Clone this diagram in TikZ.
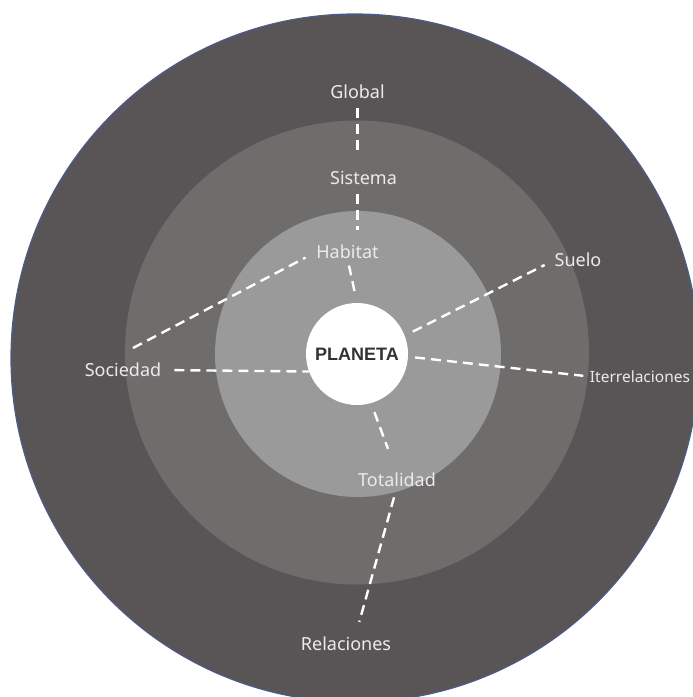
\documentclass[tikz,border=0pt]{standalone}
\usepackage{fontspec}
\setmainfont{Noto Sans}
\newfontfamily\planetfont{Liberation Sans}
\usetikzlibrary{calc}
\definecolor{ringA}{HTML}{595556}
\definecolor{ringB}{HTML}{6F6C6C}
\definecolor{ringC}{HTML}{9A9A9A}
\definecolor{rimblue}{HTML}{4D5B88}
\definecolor{labeltxt}{HTML}{EBEBEB}
\definecolor{planettxt}{HTML}{333333}
\tikzset{
  lbl/.style={inner sep=0pt, text height=13pt, text depth=0pt, text=labeltxt, font=\fontsize{18}{18}\selectfont},
  dashline/.style={draw=white, line width=2.4pt, dash pattern=on 10pt off 6pt},
}
\begin{document}
\begin{tikzpicture}[x=1pt,y=-1pt]
\useasboundingbox (0,0) rectangle (693,697);
\begin{scope}
\clip (0,0) rectangle (693,697);
\fill[white] (0,0) rectangle (693,697);
\filldraw[fill=ringA, draw=rimblue, line width=1.2pt] (355,358) circle (344pt);
\fill[ringB] (357,352.5) circle (232pt);
\fill[ringC] (358,354) circle (143pt);
\end{scope}
\node[circle, fill=white, minimum size=102pt, inner sep=0pt, text=planettxt,
      font=\planetfont\fontsize{18}{18}\selectfont\bfseries] (planet) at (357,354) {PLANETA};
\node[lbl] (global) at (357.5,92) {Global};
\node[lbl] (sistema) at (363.5,178) {Sistema};
\node[lbl] (habitat) at (347.5,252) {Habitat};
\node[lbl] (suelo) at (578,260) {Suelo};
\node[lbl] (sociedad) at (123,370) {Sociedad};
\node[lbl, font=\fontsize{15.5}{15.5}\selectfont, text height=11pt] (iterrel) at (640,376.5) {Iterrelaciones};
\node[lbl] (totalidad) at (397,480) {Totalidad};
\node[lbl] (relaciones) at (346,644) {Relaciones};
\coordinate (socUp) at (133,348);
% connectors
\draw[dashline, shorten <=9.5pt, shorten >=16.5pt] (global.south) -- (global.south |- sistema.north);
\draw[dashline, shorten <=9.5pt, shorten >=15.5pt] (global.south |- sistema.south) -- (global.south |- habitat.north);
\draw[dashline, shorten <=7pt, shorten >=7pt] (habitat.south) -- (planet.north);
\draw[dashline, shorten >=12pt] (socUp) -- (habitat.west);
\draw[dashline, shorten <=13pt] (sociedad.east) -- (planet.200);
\draw[dashline, shorten <=9pt, shorten >=11pt] (planet.21) -- (suelo.west);
\draw[dashline, shorten <=7pt, shorten >=6.5pt] (planet.-3) -- (iterrel.west);
\draw[dashline, shorten <=9.5pt, shorten >=26pt] (planet.-74.6) -- (totalidad.north);
\draw[dashline, shorten <=11pt, shorten >=16pt] (totalidad.south) -- ($(relaciones.north)+(9,0)$);
\end{tikzpicture}
\end{document}
